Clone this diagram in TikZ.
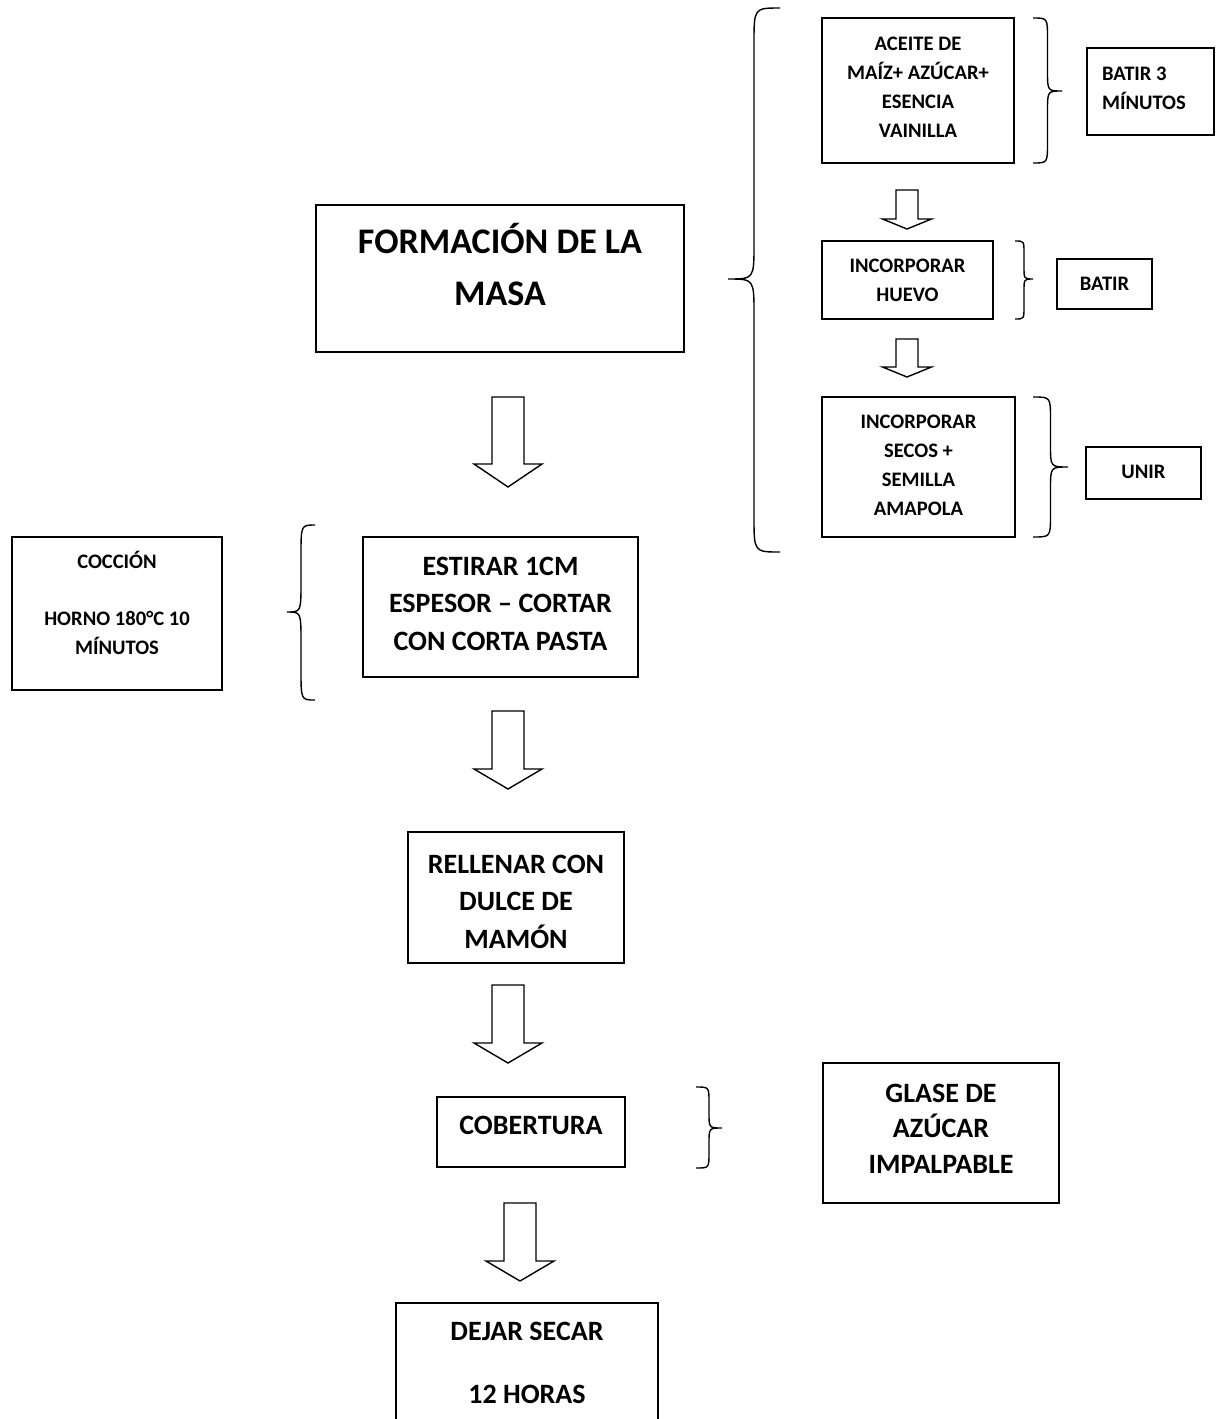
\documentclass[tikz,border=0pt]{standalone}
\usepackage{fontspec}
\setmainfont{Carlito}
\usepackage{tikz}

\newcommand{\llave}[6]{%
  \pgfmathsetmacro{\lomo}{(#1+#2)/2}
  \draw[trazo](#1,#3)..controls(\lomo,#3)..(\lomo,#3+#6)
    --(\lomo,#4-#6)..controls(\lomo,#4)..(#2,#4)
    ..controls(\lomo,#4)..(\lomo,#4+#6)
    --(\lomo,#5-#6)..controls(\lomo,#5)..(#1,#5);
}

\begin{document}
\begin{tikzpicture}[x=0.5pt,y=-0.5pt,
  caja/.style={draw,line width=1pt,inner sep=0pt,align=flush center,anchor=base},
  grande/.style={font=\fontsize{18}{26}\selectfont\bfseries},
  media/.style={font=\fontsize{14}{18.75}\selectfont\bfseries},
  chica/.style={font=\fontsize{10.3}{14.5}\selectfont\bfseries},
  trazo/.style={line width=0.7pt},
  pics/flecha/.style n args={4}{code={
    \draw[trazo](-#2,0)--(#2,0)--(#2,#1-#4)--(#3,#1-#4)--(0,#1)--(-#3,#1-#4)--(-#2,#1-#4)--cycle;}}]
       \useasboundingbox(0,0)rectangle(1227,1419);
       \node[caja,grande,text width=184pt,text height=24pt,text depth=49.5pt](masa)at(500,253){FORMACIÓN DE LA\\MASA};
       \node[caja,chica,text width=96pt,text height=16pt,text depth=56.5pt](aceite)at(918,50){ACEITE DE\\MAÍZ+ AZÚCAR+\\ESENCIA\\VAINILLA};
       \node[caja,chica,align=flush left,inner xsep=7.5pt,text width=48.5pt,text height=16pt,text depth=27.5pt](batirtres)at(1150.5,80){BATIR 3\\MÍNUTOS};
       \node[caja,chica,text width=85.5pt,text height=15.5pt,text depth=23.5pt](huevo)at(907.5,272){INCORPORAR\\HUEVO};
       \node[caja,chica,text width=47.5pt,text height=15.5pt,text depth=9.5pt](batir)at(1104.5,290){BATIR};
       \node[caja,chica,text width=96.5pt,text height=15.5pt,text depth=54.5pt](secos)at(918.5,428){INCORPORAR\\SECOS +\\SEMILLA\\AMAPOLA};
       \node[caja,chica,text width=57.5pt,text height=15.5pt,text depth=10.5pt](unir)at(1143.5,478){UNIR};
       \node[caja,chica,text width=105pt,text height=15.5pt,text depth=61pt](coccion)at(117,568){COCCIÓN\\[14pt]HORNO 180°C 10\\MÍNUTOS};
       \node[caja,media,text width=137.5pt,text height=19pt,text depth=51pt](estirar)at(500.5,575){ESTIRAR 1CM\\ESPESOR – CORTAR\\CON CORTA PASTA};
       \node[caja,media,text width=108pt,text height=20.5pt,text depth=45pt](rellenar)at(516,873){RELLENAR CON\\DULCE DE\\MAMÓN};
       \node[caja,media,text width=94pt,text height=18.5pt,text depth=16.5pt](cobertura)at(531,1134){COBERTURA};
       \node[caja,media,text width=118pt,text height=19.5pt,text depth=50.5pt](glase)at(941,1102){GLASE DE\\[-1pt]AZÚCAR\\[-1pt]IMPALPABLE};
       \node[caja,media,text width=131pt,text height=18.5pt,text depth=55pt](secar)at(527,1340){DEJAR SECAR\\[12.75pt]12 HORAS};
       \pic at(508,397){flecha={90}{16}{34}{23}};
       \pic at(508,711){flecha={78}{16}{34}{20}};
       \pic at(508,985){flecha={78}{16}{34}{20}};
       \pic at(520,1203){flecha={78}{16}{34}{20}};
       \pic at(907,190){flecha={39}{11}{24.5}{10}};
       \pic at(907,339){flecha={38}{11}{24.5}{10}};
       \llave{780}{728}{8}{279}{552}{35}
       \llave{1033}{1062}{18}{91}{163}{20}
       \llave{1015}{1033}{241}{279}{319}{12}
       \llave{1033}{1068}{397}{467}{537}{22}
       \llave{315}{287}{525}{612}{700}{30}
       \llave{696}{722}{1087}{1128}{1168}{15}
      \end{tikzpicture}
\end{document}
